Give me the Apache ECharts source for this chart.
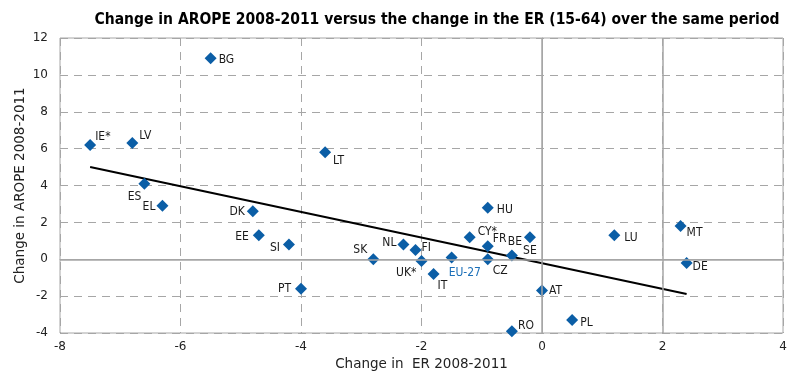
<!DOCTYPE html>
<html>
<head>
<meta charset="utf-8">
<script src="https://cdn.jsdelivr.net/npm/echarts@6/dist/echarts.min.js"></script>
<style>
html,body{margin:0;padding:0;background:#fff;}
#c{width:793px;height:379px;}
</style>
</head>
<body>
<div id="c"></div>
<script>
// ---- data ----
var countries = ['IE*','LV','BG','LT','ES','EL','DK','EE','SI','PT','SK','NL','FI','UK*','IT','EU-27','CY*','HU','FR','CZ','BE','SE','AT','RO','PL','LU','MT','DE'];
var erChange  = [-7.5,-6.8,-5.5,-3.6,-6.6,-6.3,-4.8,-4.7,-4.2,-4.0,-2.8,-2.3,-2.1,-2.0,-1.8,-1.5,-1.2,-0.9,-0.9,-0.9,-0.5,-0.2,0.0,-0.5,0.5,1.2,2.3,2.4];
var aropeChange = [6.2,6.3,10.9,5.8,4.1,2.9,2.6,1.3,0.8,-1.6,0.0,0.8,0.5,-0.1,-0.8,0.1,1.2,2.8,0.7,0.0,0.2,1.2,-1.7,-3.9,-3.3,1.3,1.8,-0.2];
var trendX = [-7.5, 2.4];
var trendY = [5.0, -1.88];
var xTicks = [-8,-6,-4,-2,0,2,4];
var yTicks = [-4,-2,0,2,4,6,8,10,12];

// label placement (style only)
var labelPlace = {
  'IE*':['right',-3,-8], 'LV':['right',-1,-7], 'BG':['right',0,2], 'LT':['right',0,9],
  'ES':['left',5,13], 'EL':['left',1,1], 'DK':['left',0,1], 'EE':['left',-2,2],
  'SI':['left',-1,3], 'PT':['left',-2,0], 'SK':['left',2,-9], 'NL':['left',1,-2],
  'FI':['right',-2,-2], 'UK*':['left',3,12], 'IT':['right',-4,12], 'EU-27':['right',-11,15],
  'CY*':['right',0,-5], 'HU':['right',1,2], 'FR':['right',-3,-7], 'CZ':['right',-3,12],
  'BE':['top',3,0], 'SE':['bottom',0,0], 'AT':['right',-1,0], 'RO':['right',-2,-5],
  'PL':['right',0,3], 'LU':['right',2,3], 'MT':['right',-2,7], 'DE':['right',-2,4]
};

var condFont = '"DejaVu Sans Condensed","Liberation Sans Narrow","DejaVu Sans",sans-serif';
var pts = countries.map(function(c,i){
  var p = labelPlace[c];
  return {
    name: c,
    value: [erChange[i], aropeChange[i]],
    label: {
      show: true, formatter: c, position: p[0], distance: 2, offset: [p[1], p[2]],
      color: c === 'EU-27' ? '#1b6fb8' : '#1a1a1a',
      fontFamily: condFont, fontSize: 12
    }
  };
});

var chart = echarts.init(document.getElementById('c'), null, {renderer:'canvas'});
var gridColor = '#a6a6a6';
chart.setOption({
  animation: false,
  title: {
    text: 'Change in AROPE 2008-2011 versus the change in the ER (15-64) over the same period',
    left: 432, top: 7, textAlign: 'center',
    textStyle: {fontFamily: condFont, fontWeight: 'bold', fontSize: 15.5, color: '#000'}
  },
  grid: {left: 60, right: 10, top: 38, bottom: 46, show: true, borderColor: gridColor, borderWidth: 1},
  xAxis: {
    type: 'value', min: -8, max: 4, interval: 2,
    name: 'Change in  ER 2008-2011', nameLocation: 'middle', nameGap: 24,
    nameTextStyle: {fontFamily: '"DejaVu Sans",sans-serif', fontSize: 13.5, color: '#222'},
    axisLine: {show: true, lineStyle: {color: gridColor}},
    axisTick: {show: false},
    axisLabel: {fontFamily: '"DejaVu Sans",sans-serif', fontSize: 12, color: '#222', margin: 8,
      formatter: function(v){ return xTicks.indexOf(v) >= 0 ? String(v) : ''; }},
    splitLine: {show: true, lineStyle: {color: gridColor, type: [8,6], width: 1}}
  },
  yAxis: {
    type: 'value', min: -4, max: 12, interval: 2,
    name: 'Change in AROPE 2008-2011', nameLocation: 'middle', nameGap: 33,
    nameMoveOverlap: false,
    nameTextStyle: {fontFamily: '"DejaVu Sans",sans-serif', fontSize: 13.5, color: '#222'},
    axisLine: {show: true, lineStyle: {color: gridColor}},
    axisTick: {show: false},
    axisLabel: {fontFamily: '"DejaVu Sans",sans-serif', fontSize: 12, color: '#222', margin: 12,
      formatter: function(v){ return yTicks.indexOf(v) >= 0 ? String(v) : ''; }},
    splitLine: {show: true, lineStyle: {color: gridColor, type: [8,6], width: 1}}
  },
  series: [
    {
      type: 'line', data: [], silent: true,
      markLine: {
        silent: true, symbol: 'none', label: {show: false},
        lineStyle: {color: gridColor, type: 'solid', width: 1.5},
        data: [{xAxis: 0}, {xAxis: 2}, {yAxis: 0}]
      }
    },
    {
      type: 'line', data: trendX.map(function(x,i){return [x, trendY[i]];}),
      showSymbol: false, symbol: 'none', lineStyle: {color: '#000', width: 2}, z: 3
    },
    {
      type: 'scatter', data: pts, symbol: 'diamond', symbolSize: 12,
      itemStyle: {color: '#0b5ea6', opacity: 1}, z: 4
    }
  ]
});
</script>
</body>
</html>
